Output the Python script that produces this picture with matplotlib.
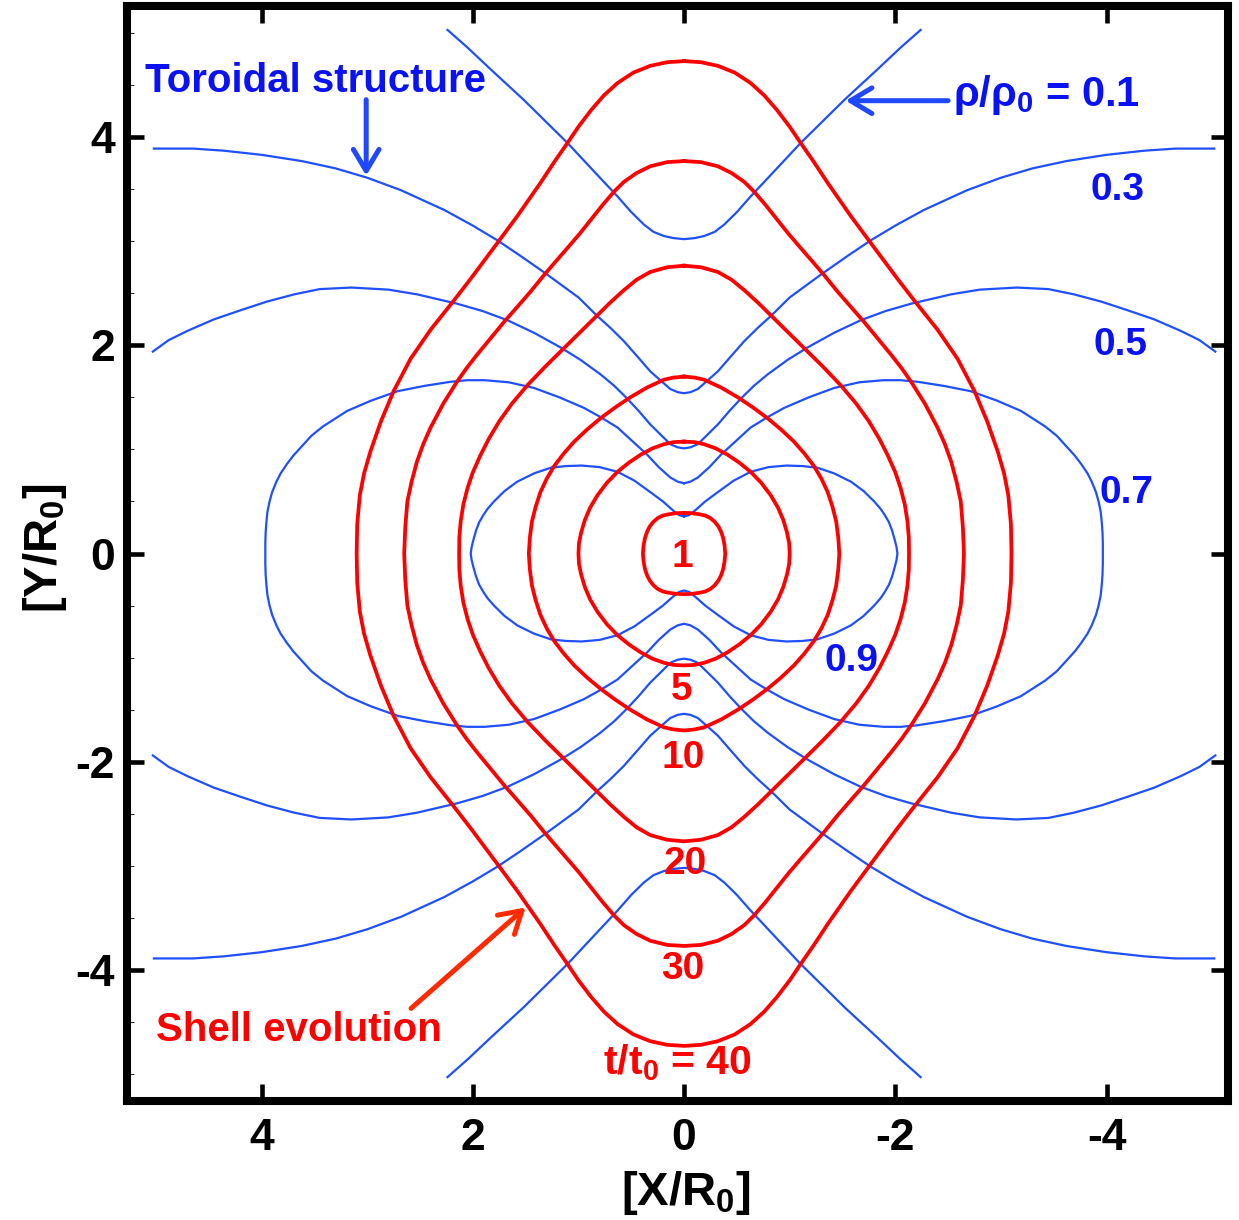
import numpy as np
import matplotlib
matplotlib.use("Agg")
import matplotlib.pyplot as plt
from matplotlib.ticker import FixedLocator, MultipleLocator

plt.rcParams['font.family'] = ['Liberation Sans', 'DejaVu Sans']
plt.rcParams['font.weight'] = 'bold'
plt.rcParams['axes.unicode_minus'] = False
plt.rcParams['mathtext.fontset'] = 'custom'
plt.rcParams['mathtext.rm'] = 'Liberation Sans:bold'
plt.rcParams['mathtext.it'] = 'Liberation Sans:bold'
plt.rcParams['mathtext.bf'] = 'Liberation Sans:bold'
plt.rcParams['mathtext.default'] = 'regular'

# ---------------- data (one quadrant of each symmetric curve) ----------------
# density contours rho/rho0 (blue)
rho09_x = [0, 0.05, 0.10, 0.20, 0.32, 0.47, 0.63, 0.80, 0.97, 1.12, 1.26, 1.42, 1.58, 1.70, 1.80, 1.86, 1.90, 1.94,
           1.97, 1.995, 2.012, 2.02]
rho09_y = [0.355, 0.37, 0.41, 0.50, 0.59, 0.70, 0.785, 0.83, 0.845, 0.84, 0.825, 0.77, 0.69, 0.60, 0.50, 0.43, 0.37,
           0.30, 0.22, 0.13, 0.06, 0.0]

rho07_x = [0, 0.06, 0.13, 0.24, 0.35, 0.49, 0.63, 0.79, 0.95, 1.18, 1.42, 1.66, 1.89, 2.05, 2.21, 2.46, 2.71, 2.96,
           3.19, 3.42, 3.53, 3.62, 3.70, 3.76, 3.82, 3.86, 3.90, 3.925, 3.945, 3.955, 3.962, 3.965, 3.965]
rho07_y = [0.675, 0.69, 0.73, 0.83, 0.95, 1.08, 1.21, 1.31, 1.40, 1.50, 1.59, 1.645, 1.665, 1.665, 1.65, 1.61, 1.56, 1.47,
           1.37, 1.22, 1.13, 1.03, 0.94, 0.86, 0.77, 0.69, 0.59, 0.50, 0.40, 0.30, 0.20, 0.10, 0.0]

rho05_x = [0, 0.06, 0.13, 0.22, 0.32, 0.43, 0.54, 0.66, 0.79, 0.98, 1.17, 1.42, 1.67, 1.91, 2.15, 2.53, 2.80, 3.15,
           3.45, 3.69, 3.95, 4.19, 4.45, 4.70, 4.88, 5.03]
rho05_y = [1.01, 1.02, 1.05, 1.14, 1.24, 1.37, 1.49, 1.61, 1.72, 1.86, 1.98, 2.12, 2.24, 2.33, 2.40, 2.49, 2.535, 2.555,
           2.54, 2.49, 2.42, 2.34, 2.25, 2.14, 2.05, 1.94]

rho03_x = [0, 0.06, 0.13, 0.22, 0.32, 0.44, 0.57, 0.70, 0.82, 1.00, 1.31, 1.55, 1.77, 2.00, 2.27, 2.68, 3.00, 3.30,
           3.62, 4.00, 4.36, 4.65, 5.02]
rho03_y = [1.54, 1.55, 1.58, 1.66, 1.75, 1.89, 2.04, 2.17, 2.28, 2.46, 2.69, 2.86, 3.01, 3.15, 3.30, 3.49, 3.61, 3.70,
           3.77, 3.83, 3.87, 3.89, 3.89]

rho01_x = [0, 0.10, 0.19, 0.29, 0.38, 0.50, 0.63, 0.87, 1.10, 1.31, 1.52, 1.83, 2.05, 2.24]
rho01_y = [3.02, 3.03, 3.05, 3.09, 3.16, 3.28, 3.43, 3.69, 3.94, 4.15, 4.36, 4.65, 4.86, 5.03]

# shell evolution t/t0 (red)
shell01_x = [0, 0.07, 0.14, 0.20, 0.25, 0.29, 0.325, 0.35, 0.37, 0.383, 0.39]
shell01_y = [0.39, 0.388, 0.378, 0.365, 0.34, 0.305, 0.26, 0.21, 0.15, 0.08, 0.0]

shell05_x = [0, 0.10, 0.19, 0.30, 0.41, 0.52, 0.63, 0.73, 0.82, 0.89, 0.94, 0.975, 0.995, 1.00]
shell05_y = [1.075, 1.07, 1.05, 1.01, 0.95, 0.875, 0.785, 0.68, 0.56, 0.44, 0.32, 0.20, 0.10, 0.0]

shell10_x = [0, 0.10, 0.19, 0.35, 0.51, 0.65, 0.79, 0.92, 1.04, 1.14, 1.23, 1.30, 1.36, 1.405, 1.44, 1.46, 1.47]
shell10_y = [1.70, 1.69, 1.67, 1.595, 1.50, 1.405, 1.30, 1.19, 1.075, 0.96, 0.84, 0.72, 0.59, 0.45, 0.31, 0.155, 0.0]

shell20_x = [0, 0.16, 0.32, 0.45, 0.57, 0.70, 0.82, 0.98, 1.14, 1.31, 1.48, 1.63, 1.75, 1.85, 1.93, 2.00, 2.05,
             2.09, 2.115, 2.128, 2.13]
shell20_y = [2.765, 2.75, 2.705, 2.63, 2.53, 2.41, 2.29, 2.13, 1.97, 1.80, 1.62, 1.44, 1.27, 1.10, 0.94, 0.78, 0.63,
             0.47, 0.31, 0.155, 0.0]

shell30_x = [0, 0.16, 0.32, 0.45, 0.57, 0.66, 0.77, 0.88, 0.99, 1.10, 1.22, 1.33, 1.45, 1.57, 1.70, 1.83, 1.96, 2.06,
             2.15, 2.28, 2.40, 2.47, 2.53, 2.58, 2.62, 2.64, 2.65]
shell30_y = [3.77, 3.76, 3.72, 3.655, 3.57, 3.48, 3.35, 3.21, 3.07, 2.94, 2.80, 2.67, 2.52, 2.38, 2.23, 2.07, 1.91, 1.78,
             1.65, 1.44, 1.21, 1.05, 0.88, 0.69, 0.50, 0.25, 0.0]

shell40_x = [0, 0.16, 0.32, 0.48, 0.63, 0.76, 0.88, 1.00, 1.10, 1.23, 1.36, 1.58, 1.77, 2.02, 2.18, 2.40, 2.59, 2.75,
             2.87, 2.97, 3.03, 3.07, 3.095, 3.10]
shell40_y = [4.73, 4.72, 4.685, 4.62, 4.52, 4.40, 4.26, 4.10, 3.95, 3.76, 3.56, 3.24, 2.98, 2.64, 2.43, 2.15, 1.87, 1.56,
             1.27, 0.98, 0.77, 0.56, 0.28, 0.0]

# labels
shell_labels = ['1', '5', '10', '20', '30', 't/t$_0$ = 40']
shell_label_x = [0.02, 0.02, 0.01, -0.01, 0.01, 0.06]
shell_label_y = [-0.13, -1.41, -2.065, -3.075, -4.085, -5.0]

rho_labels = ['0.3', '0.5', '0.7', '0.9']
rho_label_x = [-4.105, -4.13, -4.19, -1.586]
rho_label_y = [3.40, 1.91, 0.49, -1.125]

ticks = [-4, -2, 0, 2, 4]
tick_labels = ['-4', '-2', '0', '2', '4']

BLUE_LINE = '#1f4fff'
BLUE_TEXT = '#0a12f5'
RED = '#ff0000'


def closed(qx, qy):
    qx = np.asarray(qx, float)
    qy = np.asarray(qy, float)
    x = np.concatenate([qx, qx[::-1], -qx, -qx[::-1]])
    y = np.concatenate([qy, -qy[::-1], -qy, qy[::-1]])
    return x, y


def branches(qx, qy):
    qx = np.asarray(qx, float)
    qy = np.asarray(qy, float)
    x = np.concatenate([-qx[::-1], qx])
    y = np.concatenate([qy[::-1], qy])
    return [(x, y), (x, -y)]


fig = plt.figure(figsize=(12.39, 12.20), dpi=100)
ax = fig.add_axes([0.1029, 0.0975, 0.8882, 0.8976])

blw = 1.6
for qx, qy in [(rho09_x, rho09_y), (rho07_x, rho07_y)]:
    x, y = closed(qx, qy)
    ax.plot(x, y, color=BLUE_LINE, lw=blw, zorder=2, solid_joinstyle='round')
for qx, qy in [(rho05_x, rho05_y), (rho03_x, rho03_y), (rho01_x, rho01_y)]:
    for x, y in branches(qx, qy):
        ax.plot(x, y, color=BLUE_LINE, lw=blw, zorder=2, solid_joinstyle='round')

for qx, qy in [(shell01_x, shell01_y), (shell05_x, shell05_y), (shell10_x, shell10_y),
               (shell20_x, shell20_y), (shell30_x, shell30_y), (shell40_x, shell40_y)]:
    x, y = closed(qx, qy)
    ax.plot(x, y, color=RED, lw=2.7, zorder=3, solid_joinstyle='round')

ax.set_xlim(5.27, -5.15)
ax.set_ylim(-5.26, 5.26)

# text labels
for lab, lx, ly in zip(shell_labels, shell_label_x, shell_label_y):
    ax.text(lx, ly, lab, color=RED, fontsize=28 if len(lab) < 3 else 29.5, fontweight='bold',
            ha='center', va='baseline', zorder=5)
for lab, lx, ly in zip(rho_labels, rho_label_x, rho_label_y):
    ax.text(lx, ly, lab, color=BLUE_TEXT, fontsize=28, fontweight='bold', ha='center', va='baseline', zorder=5)

ax.text(-2.55, 4.30, 'ρ/ρ$_0$ = 0.1', color=BLUE_TEXT, fontsize=30, fontweight='bold',
        ha='left', va='baseline', zorder=5)
ax.text(3.49, 4.43, 'Toroidal structure', color=BLUE_TEXT, fontsize=29, fontweight='bold',
        ha='center', va='baseline', zorder=5)
ax.text(3.645, -4.68, 'Shell evolution', color=RED, fontsize=29, fontweight='bold',
        ha='center', va='baseline', zorder=5)

arrow_kw = dict(arrowstyle='->, head_length=0.7, head_width=0.42', lw=3.6, shrinkA=0, shrinkB=0)
ax.annotate('', xy=(-1.53, 4.35), xytext=(-2.50, 4.35),
            arrowprops=dict(color='#1f48ff', mutation_scale=22, **arrow_kw), zorder=6)
ax.annotate('', xy=(3.01, 3.63), xytext=(3.01, 4.36),
            arrowprops=dict(color='#1f48ff', mutation_scale=22, **arrow_kw), zorder=6)
ax.annotate('', xy=(1.50, -3.40), xytext=(2.585, -4.37),
            arrowprops=dict(color='#ff2a00', mutation_scale=22, **arrow_kw), zorder=6)

# axes styling
for s in ax.spines.values():
    s.set_linewidth(5.8)
    s.set_color('black')
ax.xaxis.set_major_locator(FixedLocator(ticks))
ax.yaxis.set_major_locator(FixedLocator(ticks))
ax.set_xticklabels(tick_labels)
ax.set_yticklabels(tick_labels)
ax.yaxis.set_minor_locator(MultipleLocator(0.5))
ax.tick_params(which='major', direction='in', length=12, width=3.3, top=True, right=True,
               labelsize=32, color='black')
ax.tick_params(axis='x', which='major', pad=12)
ax.tick_params(axis='y', which='major', pad=9)
ax.tick_params(axis='y', which='minor', direction='in', length=5, width=0.8, left=True, right=False, color='#333333')
ax.tick_params(axis='x', which='minor', bottom=False, top=False)
for lab in ax.get_xticklabels() + ax.get_yticklabels():
    lab.set_fontweight('bold')

ax.set_xlabel('[X/R$_0$]', fontsize=34, fontweight='bold')
ax.xaxis.set_label_coords(0.507, -0.095)
ax.xaxis.label.set_va('baseline')
ax.set_ylabel('[Y/R$_0$]', fontsize=34, fontweight='bold')
ax.yaxis.set_label_coords(-0.064, 0.505)
ax.yaxis.label.set_va('baseline')

fig.savefig('out.png', dpi=100)
